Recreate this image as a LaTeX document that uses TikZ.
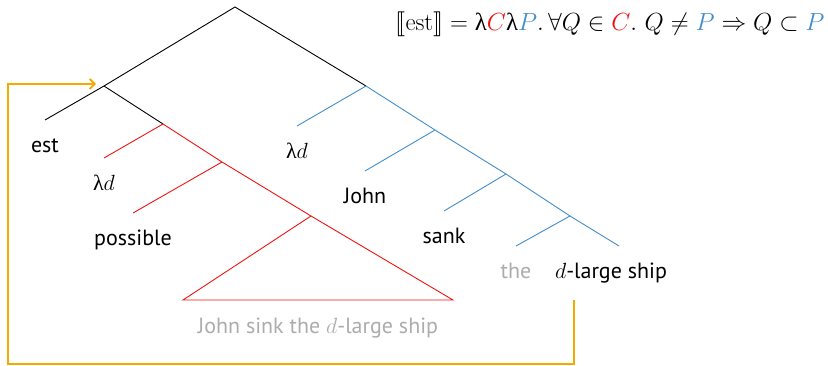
\RequirePackage{fix-cm}
\documentclass[tikz,border=0pt]{standalone}
\usepackage{fontspec}
\usepackage{amssymb}
\usepackage{stmaryrd}
\usetikzlibrary{arrows.meta, positioning}
\newfontfamily\treefont{PT Sans}
\newfontfamily\greekfont{Liberation Serif}
\newcommand{\lam}{\mbox{\greekfont λ}}
\definecolor{semblue}{RGB}{66, 142, 204}
\definecolor{semred}{RGB}{238, 20, 20}
\definecolor{movegold}{RGB}{242, 172, 0}
\definecolor{silent}{RGB}{172, 172, 172}

\begin{document}
\begin{tikzpicture}[x=1pt, y=-1pt,
    branch/.style={line width=0.9pt},
    leaf/.style={font=\treefont\fontsize{22}{26}\selectfont, inner sep=0pt,
                 text height=14pt, text depth=4pt},
    moveline/.style={draw=movegold, line width=1.8pt, -{Straight Barb[length=5pt,width=10pt]}}]
    \useasboundingbox (0,0) rectangle (828,366);

    % formula
    \node[anchor=base, font=\fontsize{24.8}{28}\selectfont] (sem) at (610,31)
        {$\llbracket\mathrm{est}\rrbracket = \lam{\color{semred}C}\lam{\color{semblue}P}.\,
          \forall Q\in{\color{semred}C}.\ Q\neq{\color{semblue}P}\Rightarrow Q\subset{\color{semblue}P}$};

    % tree points
    \coordinate (root) at (235,7);
    \coordinate (n1) at (104,86);
    \coordinate (est) at (45,120);
    \coordinate (n2) at (163,124);
    \coordinate (lam1) at (104,158);
    \coordinate (n3) at (222,162);
    \coordinate (poss) at (133,213);
    \coordinate (tri) at (311,216);
    \coordinate (triL) at (183,300);
    \coordinate (triR) at (453,300);
    \coordinate (triB) at (318,300);
    \coordinate (b1) at (366,86);
    \coordinate (lam2) at (297,126);
    \coordinate (b2) at (435,130);
    \coordinate (john) at (365,171);
    \coordinate (b3) at (506,174);
    \coordinate (sank) at (444,211);
    \coordinate (b4) at (570,216);
    \coordinate (the) at (516,246);
    \coordinate (ship) at (619,246);

    % black part
    \draw[branch] (est) -- (n1) -- (root) -- (b1);
    \draw[branch] (n1) -- (n2);
    % scope of est
    \draw[branch, semred] (n2) -- (n3) -- (tri);
    \draw[branch, semred] (tri) -- (triR) -- (triL) -- cycle;
    \draw[branch, semred] (n2) -- (lam1);
    \draw[branch, semred] (n3) -- (poss);
    % remnant
    \draw[branch, semblue] (b1) -- (b2) -- (b3) -- (b4) -- (ship);
    \draw[branch, semblue] (b1) -- (lam2);
    \draw[branch, semblue] (b2) -- (john);
    \draw[branch, semblue] (b3) -- (sank);
    \draw[branch, semblue] (b4) -- (the);

    % words
    \node[leaf, below=18pt of est] (estw) {est};
    \node[leaf, below=18pt of lam1] (lam1w) {\lam$d$};
    \node[leaf, below=18pt of poss] (possw) {possible};
    \node[leaf, below=18pt of lam2] (lam2w) {\lam$d$};
    \node[leaf, below=18pt of john] (johnw) {John};
    \node[leaf, below=18pt of sank] (sankw) {sank};
    \node[leaf, below=18pt of the, text=silent] (thew) {the};
    \node[leaf, below=18pt of ship, xshift=-8pt] (shipw) {$d$-large ship};
    \node[leaf, text=silent, below=19pt of triB] (clause) {John sink the $d$-large ship};

    % movement
    \coordinate (src) at (574,300);
    \coordinate (corner) at (8,84);
    \coordinate (tgt) at (96,84);
    \draw[moveline] (src) -- ++(0,64) -| (corner) -- (tgt);
\end{tikzpicture}
\end{document}
